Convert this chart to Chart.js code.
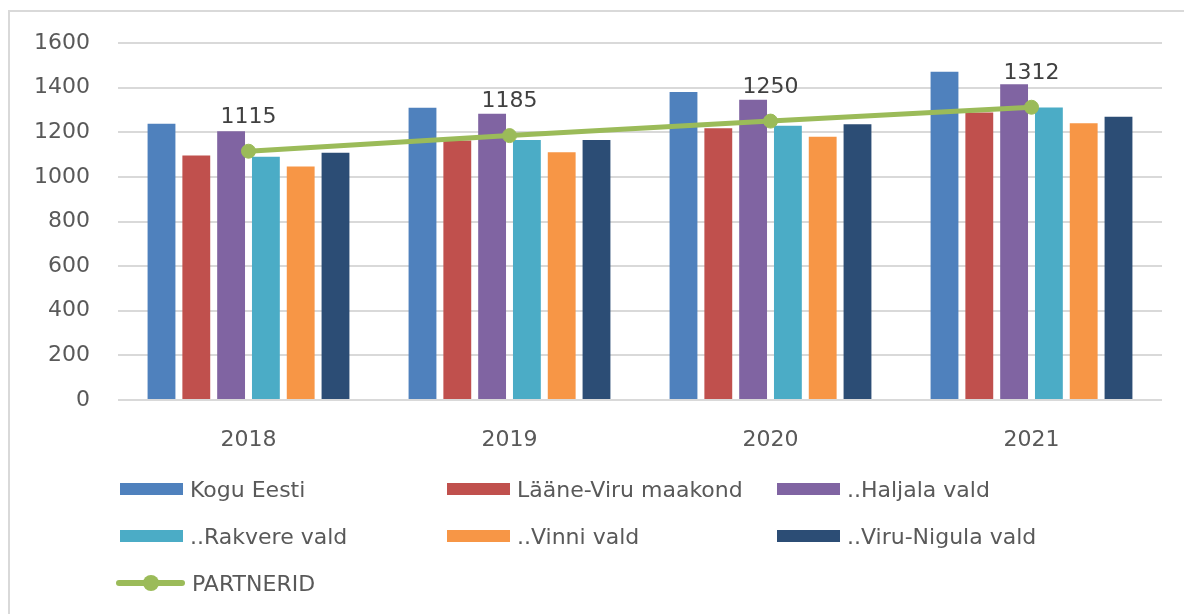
<!DOCTYPE html>
<html>
<head>
<meta charset="utf-8">
<script src="https://cdn.jsdelivr.net/npm/chart.js@4/dist/chart.umd.min.js"></script>
<style>
  html, body { margin: 0; padding: 0; background: #fff; overflow: hidden; }
  #wrap { position: absolute; left: 0; top: 0; width: 1184px; height: 614px; }
  #frame { position: absolute; left: 8px; top: 10px; width: 2000px; height: 2000px;
           border: 2px solid #d9d9d9; pointer-events: none; }
  #legend { position: absolute; left: 116px; top: 471px; font-family: 'DejaVu Sans', sans-serif;
            font-size: 22px; color: #595959; }
  .item { position: absolute; display: flex; align-items: center; height: 36px; white-space: nowrap; }
  .box { width: 63px; height: 12px; margin-left: 4px; margin-right: 7px; }
  .lineSym { position: relative; width: 69px; height: 16px; margin-right: 7px; }
  .lineSym .ln { position: absolute; left: 0; top: 5px; width: 69px; height: 6px; border-radius: 3px; }
  .lineSym .dot { position: absolute; left: 27px; top: 0; width: 16px; height: 16px; border-radius: 50%; }
</style>
</head>
<body>
<div id="wrap"><canvas id="chart"></canvas></div>
<div id="frame"></div>
<div id="legend"></div>
<script>
const categories = ['2018', '2019', '2020', '2021'];
const koguEesti = [1238, 1310, 1380, 1471];
const laaneViru = [1096, 1163, 1218, 1288];
const haljala = [1205, 1283, 1346, 1415];
const rakvere = [1090, 1165, 1229, 1311];
const vinni = [1047, 1110, 1180, 1240];
const viruNigula = [1108, 1165, 1236, 1270];
const partnerid = [1115, 1185, 1250, 1312];

Chart.defaults.font.family = "'DejaVu Sans', sans-serif";
Chart.defaults.color = '#595959';

const bar = (label, data, color) => ({
    type: 'bar', label: label, data: data, backgroundColor: color, order: 1,
    categoryPercentage: 0.8, barPercentage: 0.8
});

// values over the green line
const lineLabels = {
    id: 'lineLabels',
    afterDatasetsDraw(chart) {
        const ctx = chart.ctx;
        const meta = chart.getDatasetMeta(6);
        ctx.save();
        ctx.font = "22px 'DejaVu Sans', sans-serif";
        ctx.fillStyle = '#404040';
        ctx.textAlign = 'center';
        ctx.textBaseline = 'middle';
        meta.data.forEach((pt, i) => ctx.fillText(partnerid[i], pt.x, pt.y - 34));
        ctx.restore();
    }
};

const chart = new Chart(document.getElementById('chart'), {
    data: {
        labels: categories,
        datasets: [
            bar('Kogu Eesti', koguEesti, '#4F81BD'),
            bar('Lääne-Viru maakond', laaneViru, '#C0504D'),
            bar('..Haljala vald', haljala, '#8064A2'),
            bar('..Rakvere vald', rakvere, '#4BACC6'),
            bar('..Vinni vald', vinni, '#F79646'),
            bar('..Viru-Nigula vald', viruNigula, '#2C4D75'),
            {
                type: 'line', label: 'PARTNERID', data: partnerid, order: 0,
                borderColor: '#9BBB59', backgroundColor: '#9BBB59', borderWidth: 5,
                pointRadius: 7, pointBorderWidth: 1, tension: 0
            }
        ]
    },
    options: {
        responsive: true,
        maintainAspectRatio: false,
        animation: false,
        layout: { padding: { top: 43, right: 22, left: 0, bottom: 0 } },
        plugins: { legend: { display: false }, tooltip: { enabled: false } },
        scales: {
            x: {
                grid: { display: false },
                border: { display: false },
                ticks: { font: { size: 22 }, padding: 19 },
                afterFit: (scale) => { scale.height = 214; }
            },
            y: {
                min: 0, max: 1600,
                grid: { color: '#d9d9d9', lineWidth: 2, drawTicks: false },
                border: { display: false },
                ticks: { stepSize: 200, font: { size: 22 }, padding: 28, callback: (v) => String(v) },
                afterFit: (scale) => { scale.width = 118; }
            }
        }
    },
    plugins: [lineLabels]
});

// legend in three columns, built from the datasets
const legend = document.getElementById('legend');
const colX = [0, 327, 657];
chart.data.datasets.forEach((ds, i) => {
    const item = document.createElement('div');
    item.className = 'item';
    item.style.left = colX[i % 3] + 'px';
    item.style.top = (Math.floor(i / 3) * 47) + 'px';
    if (ds.type === 'line') {
        item.innerHTML = '<div class="lineSym"><div class="ln" style="background:' + ds.borderColor +
            '"></div><div class="dot" style="background:' + ds.borderColor + '"></div></div>';
    } else {
        item.innerHTML = '<div class="box" style="background:' + ds.backgroundColor + '"></div>';
    }
    const txt = document.createElement('span');
    txt.textContent = ds.label;
    item.appendChild(txt);
    legend.appendChild(item);
});
</script>
</body>
</html>
